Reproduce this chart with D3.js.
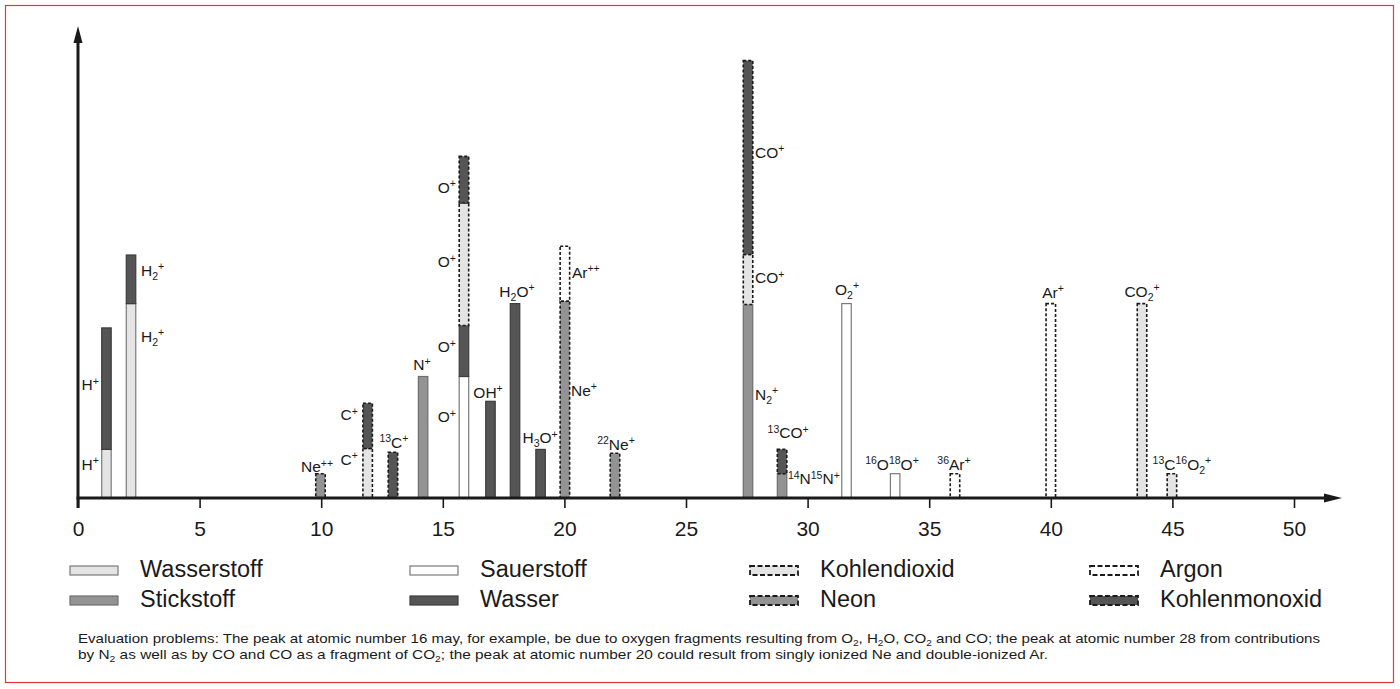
<!DOCTYPE html>
<html>
<head>
<meta charset="utf-8">
<script src="https://cdn.jsdelivr.net/npm/d3@7"></script>
<style>
  html, body { margin: 0; padding: 0; background: #fff; }
  svg { display: block; }
  text { font-family: "Liberation Sans", Arial, Helvetica, sans-serif; fill: #1a1a1a; }
  .caption { font-family: "Liberation Sans Narrow", "Liberation Sans", Arial, sans-serif; }
</style>
</head>
<body>
<svg id="chart" width="1400" height="689"></svg>
<script>
// ---------------- DATA ----------------
const species = ["Wasserstoff", "Stickstoff", "Sauerstoff", "Wasser", "Kohlendioxid", "Neon", "Argon", "Kohlenmonoxid"];
const legendOrder = ["Wasserstoff", "Stickstoff", "Sauerstoff", "Wasser", "Kohlendioxid", "Neon", "Argon", "Kohlenmonoxid"];

// peak positions (atomic mass axis)
const peakPos = [1.17, 2.18, 9.97, 11.91, 12.95, 14.19, 15.87, 16.96, 17.97, 19.02, 20.02, 22.08, 27.55, 28.95, 31.6, 33.6, 36.06, 40.0, 43.75, 44.98];

// contributions of each species to each peak (relative units)
const wasserstoff   = [1.0, 4.0, 0, 0, 0, 0, 0, 0, 0, 0, 0, 0, 0, 0, 0, 0, 0, 0, 0, 0];
const stickstoff    = [0, 0, 0, 0, 0, 2.5, 0, 0, 0, 0, 0, 0, 3.98, 0.5, 0, 0, 0, 0, 0, 0];
const sauerstoff    = [0, 0, 0, 0, 0, 0, 2.5, 0, 0, 0, 0, 0, 0, 0, 4.0, 0.5, 0, 0, 0, 0];
const wasser        = [2.5, 1.0, 0, 0, 0, 0, 1.05, 1.99, 4.0, 1.0, 0, 0, 0, 0, 0, 0, 0, 0, 0, 0];
const kohlendioxid  = [0, 0, 0, 1.02, 0, 0, 2.52, 0, 0, 0, 0, 0, 1.03, 0, 0, 0, 0, 0, 4.0, 0.5];
const neon          = [0, 0, 0.5, 0, 0, 0, 0, 0, 0, 0, 4.05, 0.92, 0, 0, 0, 0, 0, 0, 0, 0];
const argon         = [0, 0, 0, 0, 0, 0, 0, 0, 0, 0, 1.13, 0, 0, 0, 0, 0, 0.5, 4.0, 0, 0];
const kohlenmonoxid = [0, 0, 0, 0.93, 0.94, 0, 0.96, 0, 0, 0, 0, 0, 3.99, 0.5, 0, 0, 0, 0, 0, 0];

const xTicks = [0, 5, 10, 15, 20, 25, 30, 35, 40, 45, 50];

// ion labels: text, x (mass units), y (intensity units), anchor
const labelText = ["H^{+}", "H^{+}", "H_{2}^{+}", "H_{2}^{+}", "Ne^{++}", "C^{+}", "C^{+}", "^{13}C^{+}", "N^{+}",
  "O^{+}", "O^{+}", "O^{+}", "O^{+}", "OH^{+}", "H_{2}O^{+}", "H_{3}O^{+}", "Ar^{++}", "Ne^{+}", "^{22}Ne^{+}",
  "CO^{+}", "CO^{+}", "N_{2}^{+}", "^{13}CO^{+}", "^{14}N^{15}N^{+}", "O_{2}^{+}", "^{16}O^{18}O^{+}", "^{36}Ar^{+}",
  "Ar^{+}", "CO_{2}^{+}", "^{13}C^{16}O_{2}^{+}"];
const labelX = [0.86, 0.86, 2.59, 2.59, 9.83, 11.51, 11.51, 12.99, 14.14,
  15.54, 15.54, 15.54, 15.54, 16.86, 18.05, 19.0, 20.31, 20.27, 22.12,
  27.84, 27.84, 27.84, 29.2, 29.19, 31.62, 33.47, 36.02,
  40.09, 43.75, 45.39];
const labelY = [2.22, 0.58, 4.57, 3.21, 0.53, 1.6, 0.68, 1.03, 2.63,
  6.28, 4.75, 3.0, 1.56, 2.06, 4.14, 1.13, 4.53, 2.1, 0.99,
  7.0, 4.42, 2.02, 1.23, 0.28, 4.18, 0.58, 0.58,
  4.12, 4.14, 0.58];
const labelAnchor = ["end", "end", "start", "start", "middle", "end", "end", "middle", "middle",
  "end", "end", "end", "end", "middle", "middle", "middle", "start", "start", "middle",
  "start", "start", "start", "middle", "start", "middle", "middle", "middle",
  "middle", "middle", "middle"];

const captionLines = [
  "Evaluation problems: The peak at atomic number 16 may, for example, be due to oxygen fragments resulting from O_{2}, H_{2}O, CO_{2} and CO; the peak at atomic number 28 from contributions",
  "by N_{2} as well as by CO and CO as a fragment of CO_{2}; the peak at atomic number 20 could result from singly ionized Ne and double-ionized Ar."
];

// ---------------- STYLES ----------------
const style = {
  Wasserstoff:   { fill: "#e4e4e4", stroke: "#7a7a7a", dash: null },
  Stickstoff:    { fill: "#939393", stroke: "#6e6e6e", dash: null },
  Sauerstoff:    { fill: "#ffffff", stroke: "#7a7a7a", dash: null },
  Wasser:        { fill: "#555555", stroke: "#3c3c3c", dash: null },
  Kohlendioxid:  { fill: "#e4e4e4", stroke: "#1a1a1a", dash: "3,2" },
  Neon:          { fill: "#939393", stroke: "#1a1a1a", dash: "3,2" },
  Argon:         { fill: "#ffffff", stroke: "#1a1a1a", dash: "3,2" },
  Kohlenmonoxid: { fill: "#555555", stroke: "#1a1a1a", dash: "3,2" }
};

// ---------------- BUILD ----------------
const svg = d3.select("#chart");
const W = 1400, H = 689;

svg.append("rect").attr("x", 5.5).attr("y", 5.5).attr("width", W - 12).attr("height", H - 12)
  .attr("fill", "none").attr("stroke", "#e8373a").attr("stroke-width", 1.2);

const x = d3.scaleLinear().domain([0, 50]).range([78, 1294]);
const y = d3.scaleLinear().domain([0, 9]).range([498, 60.6]);

const seriesMap = { Wasserstoff: wasserstoff, Stickstoff: stickstoff, Sauerstoff: sauerstoff, Wasser: wasser,
  Kohlendioxid: kohlendioxid, Neon: neon, Argon: argon, Kohlenmonoxid: kohlenmonoxid };
const table = peakPos.map((p, i) => {
  const row = { pos: p };
  species.forEach(s => row[s] = seriesMap[s][i]);
  return row;
});
const stacked = d3.stack().keys(species)(table);

const halfW = 0.195;
const barsG = svg.append("g");
stacked.forEach(layer => {
  const st = style[layer.key];
  barsG.append("g").selectAll("rect")
    .data(layer.filter(d => d[1] - d[0] > 0))
    .join("rect")
    .attr("x", d => x(d.data.pos - halfW))
    .attr("width", d => x(d.data.pos + halfW) - x(d.data.pos - halfW))
    .attr("y", d => y(d[1]))
    .attr("height", d => y(d[0]) - y(d[1]))
    .attr("fill", st.fill)
    .attr("stroke", st.stroke)
    .attr("stroke-width", st.dash ? 1.6 : 1.2)
    .attr("stroke-dasharray", st.dash);
});

// rich text helper: ^{..} superscript, _{..} subscript
function richText(sel, str, size, supSize, supDy, subDy) {
  const tokens = str.match(/(\^\{[^}]*\}|_\{[^}]*\}|[^\^_]+)/g) || [];
  let offset = 0;
  tokens.forEach(tok => {
    let txt, target, fs;
    if (tok.startsWith("^{")) { txt = tok.slice(2, -1); target = supDy; fs = supSize; }
    else if (tok.startsWith("_{")) { txt = tok.slice(2, -1); target = subDy; fs = supSize; }
    else { txt = tok; target = 0; fs = size; }
    sel.append("tspan").attr("dy", target - offset).attr("font-size", fs).text(txt);
    offset = target;
  });
}

// labels
const labG = svg.append("g");
labelText.forEach((t, i) => {
  const tx = labG.append("text")
    .attr("x", x(labelX[i]))
    .attr("y", y(labelY[i]))
    .attr("text-anchor", labelAnchor[i])
    .attr("font-size", 15.5);
  richText(tx, t, 15.5, 10.5, -5.5, 4);
});

// axes
const axisG = svg.append("g").attr("transform", `translate(0,${y(0)})`);
axisG.call(d3.axisBottom(x).tickValues(xTicks).tickSize(10).tickPadding(13).tickFormat(d3.format("d")));
axisG.select(".domain").remove();
axisG.selectAll(".tick line").attr("stroke", "#1a1a1a").attr("stroke-width", 1.6);
axisG.selectAll(".tick text").attr("font-size", 21).attr("fill", "#1a1a1a")
  .attr("font-family", "\"Liberation Sans\", Arial, sans-serif");

// x-axis line with arrow
const axisColor = "#1a1a1a";
svg.append("line").attr("x1", x(0) - 1.5).attr("x2", 1328).attr("y1", y(0)).attr("y2", y(0))
  .attr("stroke", axisColor).attr("stroke-width", 3);
svg.append("path").attr("d", `M1342,${y(0)} L1324,${y(0) - 4.5} L1324,${y(0) + 4.5} Z`).attr("fill", axisColor);
// y-axis line with arrow
svg.append("line").attr("x1", x(0)).attr("x2", x(0)).attr("y1", y(0) + 10).attr("y2", 38)
  .attr("stroke", axisColor).attr("stroke-width", 3);
svg.append("path").attr("d", `M${x(0)},26 L${x(0) - 4.5},43 L${x(0) + 4.5},43 Z`).attr("fill", axisColor);

// legend
const legG = svg.append("g");
const colX = [70, 410, 750, 1090];
const rowY = [566, 596];
legendOrder.forEach((s, i) => {
  const c = Math.floor(i / 2), r = i % 2;
  const st = style[s];
  legG.append("rect").attr("x", colX[c]).attr("y", rowY[r]).attr("width", 48).attr("height", 9)
    .attr("fill", st.fill).attr("stroke", st.dash ? "#1a1a1a" : st.stroke)
    .attr("stroke-width", st.dash ? 1.8 : 1.2).attr("stroke-dasharray", st.dash ? "5,2.5" : null);
  legG.append("text").attr("x", colX[c] + 70).attr("y", rowY[r] + 11).attr("font-size", 23.5).text(s);
});

// caption
const capBase = [643, 659];
const capLen = [1242, 970];
captionLines.forEach((line, i) => {
  const t = svg.append("text").attr("class", "caption").attr("x", 78).attr("y", capBase[i])
    .attr("font-size", 13.5).attr("textLength", capLen[i]).attr("lengthAdjust", "spacingAndGlyphs");
  richText(t, line, 13.5, 9, -4, 3);
});
</script>
</body>
</html>
